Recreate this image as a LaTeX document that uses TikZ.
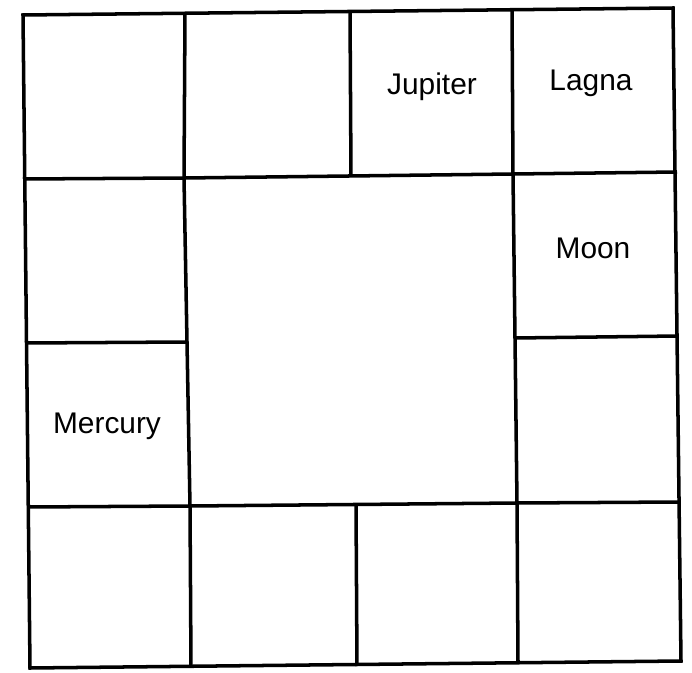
\documentclass[tikz,border=0pt]{standalone}
\usepackage{fontspec}
\setmainfont{Liberation Sans}
\usetikzlibrary{positioning}

\begin{document}
\begin{tikzpicture}[
    x=0.03cm, y=-0.03cm,
    grid/.style={line width=3pt, line join=miter},
    planet/.style={font=\fontsize{25.5}{30}\selectfont, inner sep=0pt}
  ]
    \useasboundingbox (0,0) rectangle (692,673);
    % outer frame
    \draw[grid] (23,15) -- (673,8) -- (681,661) -- (30,668) -- cycle;
    % horizontal lines
    \draw[grid] (23,179) -- (184,178) -- (513,174) -- (677,172);
    \draw[grid] (25,343) -- (187,342);
    \draw[grid] (515,338) -- (678,336);
    \draw[grid] (28,507) -- (190,506) -- (517,503) -- (680,502);
    % vertical lines
    \draw[grid] (185,13) -- (184,178) -- (187,342) -- (190,506) -- (191,667);
    \draw[grid] (350,11) -- (351,176);
    \draw[grid] (356,505) -- (357,666);
    \draw[grid] (512,9) -- (513,174) -- (515,338) -- (517,503) -- (518,662);
    % houses with planets
    \node[planet] (jupiter) at (432,87) {Jupiter};
    \node[planet] (lagna) at (591,83) {Lagna};
    \node[planet] (moon) at (593,248) {Moon};
    \node[planet] (mercury) at (107,426) {Mercury};
\end{tikzpicture}
\end{document}
